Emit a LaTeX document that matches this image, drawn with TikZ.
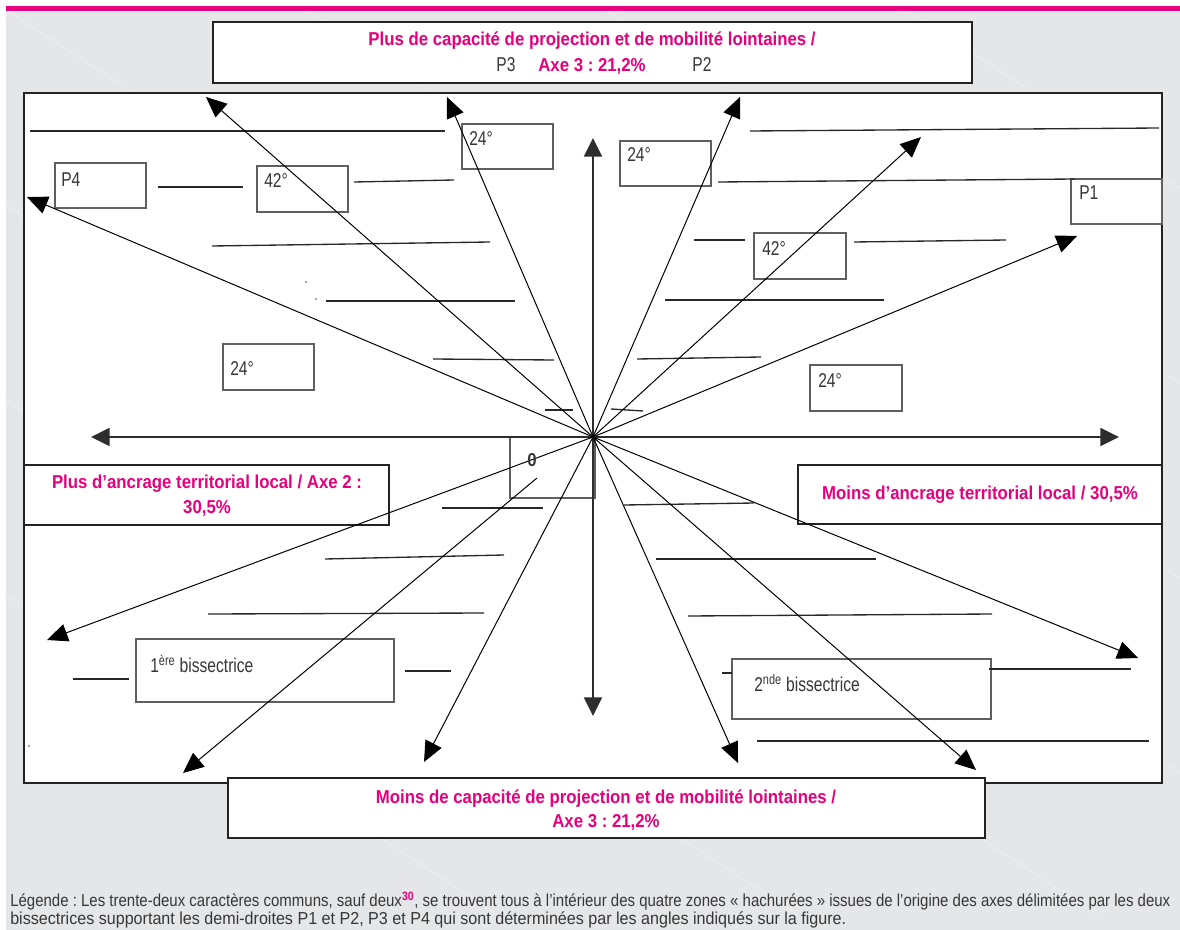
\documentclass[tikz,border=0pt]{standalone}
\usepackage{fontspec}
\usepackage{graphicx}
\usetikzlibrary{arrows.meta}
\setmainfont{Liberation Sans}
\newfontfamily\condreg{Liberation Sans}[FakeStretch=0.78]
\newfontfamily\condb{Liberation Sans}[FakeStretch=0.9]
\newfontfamily\legf{Liberation Sans}
\definecolor{mag}{RGB}{230,0,126}
\definecolor{bg}{RGB}{229,230,232}
\definecolor{txt}{RGB}{55,55,55}
\definecolor{bord}{RGB}{95,95,95}
\definecolor{frm}{RGB}{35,35,35}
\definecolor{axc}{RGB}{45,45,45}
\definecolor{hc}{RGB}{40,40,40}
\newcommand\mkbox[6][]{\node[pbox,#1,anchor=north west,minimum width={(#5-#3)*0.75pt},minimum height={(#6-#4)*0.75pt}] (#2) at (#3,#4) {};}
\begin{document}
\frenchspacing
\begin{tikzpicture}[x=0.75pt,y=-0.75pt,
  pbox/.style={draw=bord,line width=0.8pt,fill=white,inner sep=0pt,outer sep=0pt,rectangle},
  ray/.style={draw=black,line width=0.75pt,-{Triangle[length=15.5pt,width=13.5pt]}},
  axes/.style={draw=axc,line width=1.3pt,{Triangle[length=14pt,width=13.5pt]}-{Triangle[length=14pt,width=13.5pt]}},
  hatch/.style={draw=hc,line width=1pt},
  glab/.style={font=\condreg\fontsize{15pt}{17pt}\selectfont,text=txt,inner sep=0pt,anchor=base west},
  mlab/.style={font=\condb\bfseries\fontsize{14pt}{16pt}\selectfont,text=mag,inner sep=0pt,anchor=base},
  legl/.style={font=\legf\fontsize{13pt}{15pt}\selectfont\frenchspacing,text=txt,inner sep=0pt,anchor=base west},
  stripe/.style={draw=white,opacity=0.3,line width=0.8pt}]
\useasboundingbox (0,0) rectangle (1180,930);
\clip (0,0) rectangle (1180,930);
% background
\fill[white] (0,0) rectangle (1180,930);
\fill[bg] (6,6) rectangle (1180,930);
\foreach \s in {-900,-600,-300,0,300,600,900} {\draw[stripe] (\s,6) -- (\s+1400,916);}
\fill[mag] (6,6) rectangle (1180,11);
% frames and boxes
\mkbox[draw=frm,line width=0.9pt]{frame}{24}{93}{1162}{783}
\mkbox[draw=frm]{topbox}{213}{22}{972}{83}
\mkbox[draw=frm]{botbox}{228}{778}{985}{838}
\mkbox{bA}{462}{124}{553}{169}
\mkbox{bB}{620}{141}{711}{186}
\mkbox{bP4}{55}{163}{146}{208}
\mkbox{bC}{257}{166}{348}{212}
\mkbox{bP1}{1071}{179}{1162}{224}
\mkbox{bD}{754}{233}{846}{279}
\mkbox{bE}{223}{344}{314}{390}
\mkbox{bF}{810}{365}{902}{411}
\mkbox{bzero}{510}{437}{595}{498}
\mkbox[draw=frm]{bleft}{24}{465}{389}{525}
\mkbox[draw=frm]{bright}{798}{465}{1162}{524}
\mkbox{bfirst}{136}{639}{394}{702}
\mkbox{bsecond}{732}{659}{991}{719}
% hatch lines
\draw[hatch] (30,131) -- (445,131);
\draw[hatch] (750,131) -- (1159,128);
\draw[hatch] (158,187) -- (243,187);
\draw[hatch] (354,182) -- (454,180);
\draw[hatch] (718,182) -- (1075,179);
\draw[hatch] (212,246) -- (490,242);
\draw[hatch] (694,240) -- (745,240);
\draw[hatch] (854,242) -- (1006,240);
\draw[hatch] (326,301) -- (515,301);
\draw[hatch] (665,300) -- (884,300);
\draw[hatch] (433,359) -- (554,360);
\draw[hatch] (637,359) -- (761,357);
\draw[hatch] (545,410) -- (573,410);
\draw[hatch] (611,409) -- (643,411);
\draw[hatch] (442,508) -- (543,508);
\draw[hatch] (624,505) -- (754,503);
\draw[hatch] (325,559) -- (504,555);
\draw[hatch] (656,559) -- (876,559);
\draw[hatch] (208,614) -- (484,613);
\draw[hatch] (688,616) -- (992,614);
\draw[hatch] (73,679) -- (129,679);
\draw[hatch] (405,671) -- (451,671);
\draw[hatch] (722,673) -- (732,673);
\draw[hatch] (989,669) -- (1131,669);
\draw[hatch] (757,741) -- (1149,741);
\fill[black!70] (306,282) circle (0.8);
\fill[black!70] (316,299) circle (0.8);
\fill[black!70] (29,746) circle (0.8);
% axes and rays
\coordinate (O) at (593,437);
\coordinate (hl) at (91,437);
\coordinate (hr) at (1119,437);
\coordinate (vt) at (593,138);
\coordinate (vb) at (593,716);
\coordinate (t1) at (206,97);
\coordinate (t2) at (447,97);
\coordinate (t3) at (740,97);
\coordinate (t4) at (921,137);
\coordinate (t5) at (1077,236);
\coordinate (t6) at (27,197);
\coordinate (t7) at (47,640);
\coordinate (s8) at (537,478);
\coordinate (t8) at (183,773);
\coordinate (t9) at (424,762);
\coordinate (t10) at (738,763);
\coordinate (t11) at (976,770);
\coordinate (t12) at (1138,658);
\draw[axes] (hl) -- (hr);
\draw[axes] (vt) -- (vb);
\foreach \t in {t1,t2,t3,t4,t5,t6,t7,t9,t10,t11,t12} {\draw[ray] (O) -- (\t);}
\draw[ray] (s8) -- (t8);
% texts
\node[mlab] (ttl1) at (592,46) {Plus de capacité de projection et de mobilité lointaines /};
\node[glab,anchor=base] (lp3) at (506,72) {P3};
\node[mlab] (ttl2) at (592,72) {Axe 3 : 21,2\%};
\node[glab,anchor=base] (lp2) at (702,72) {P2};
\node[mlab] (btl1) at (606,803) {Moins de capacité de projection et de mobilité lointaines /};
\node[mlab] (btl2) at (606,827) {Axe 3 : 21,2\%};
\node[mlab] (lft1) at (207,488) {Plus d’ancrage territorial local / Axe 2 :};
\node[mlab] (lft2) at (207,513) {30,5\%};
\node[mlab] (rgt) at (980,499) {Moins d’ancrage territorial local / 30,5\%};
\node[font=\condb\bfseries\fontsize{14pt}{16pt}\selectfont,text=txt,inner sep=0pt,anchor=base] (zero) at (532,466) {0};
\node[glab] (lA) at (469,146) {24°};
\node[glab] (lB) at (627,162) {24°};
\node[glab] (lP4) at (61,187) {P4};
\node[glab] (lC) at (264,188) {42°};
\node[glab] (lP1) at (1079,200) {P1};
\node[glab] (lD) at (762,256) {42°};
\node[glab] (lE) at (230,375) {24°};
\node[glab] (lF) at (818,387) {24°};
\node[glab] (lfirst) at (150,672) {1\textsuperscript{ère} bissectrice};
\node[glab] (lsecond) at (754,691) {2\textsuperscript{nde} bissectrice};
% legend
\node[legl] (leg1) at (10,906) {\resizebox{870pt}{\height}{Légende : Les trente-deux caractères communs, sauf deux\textsuperscript{\textcolor{mag}{\bfseries 30}}, se trouvent tous à l’intérieur des quatre zones « hachurées » issues de l’origine des axes délimitées par les deux}};
\node[legl] (leg2) at (10,924) {\resizebox{627pt}{\height}{bissectrices supportant les demi-droites P1 et P2, P3 et P4 qui sont déterminées par les angles indiqués sur la figure.}};
\end{tikzpicture}
\end{document}
